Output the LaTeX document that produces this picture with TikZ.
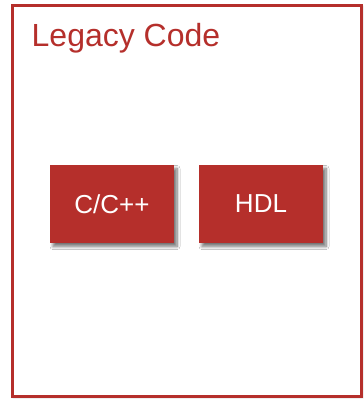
\documentclass[tikz,border=0pt]{standalone}
\usepackage{fontspec}
\setmainfont{Liberation Sans}
\usetikzlibrary{shadows.blur}
\definecolor{legacyred}{HTML}{B52F2B}
\tikzset{
  codebox/.style={fill=legacyred, draw=none, minimum width=124pt, minimum height=78pt,
    inner sep=0pt, text=white, font=\fontsize{26}{28}\selectfont,
    blur shadow={shadow xshift=3pt, shadow yshift=-3.5pt, shadow blur steps=8, shadow blur radius=3pt, shadow opacity=55}},
  frame/.style={draw=legacyred, line width=3pt, fill=white,
    blur shadow={shadow xshift=1.5pt, shadow yshift=-1.5pt, shadow blur steps=4, shadow opacity=30}}
}
\begin{document}
\begin{tikzpicture}[x=1pt, y=-1pt]
  \useasboundingbox (0,0) rectangle (364,399);
  \node[frame, minimum width=349pt, minimum height=391pt, inner sep=0pt] (legacy) at (186.5,200.5) {};
  \node[anchor=base west, text=legacyred, inner sep=0pt, font=\fontsize{32}{36}\selectfont] (title) at (31.5,46) {Legacy Code};
  \node[codebox] (cpp) at (112,204) {C/C++};
  \node[codebox] (hdl) at (261,204) {HDL};
\end{tikzpicture}
\end{document}
